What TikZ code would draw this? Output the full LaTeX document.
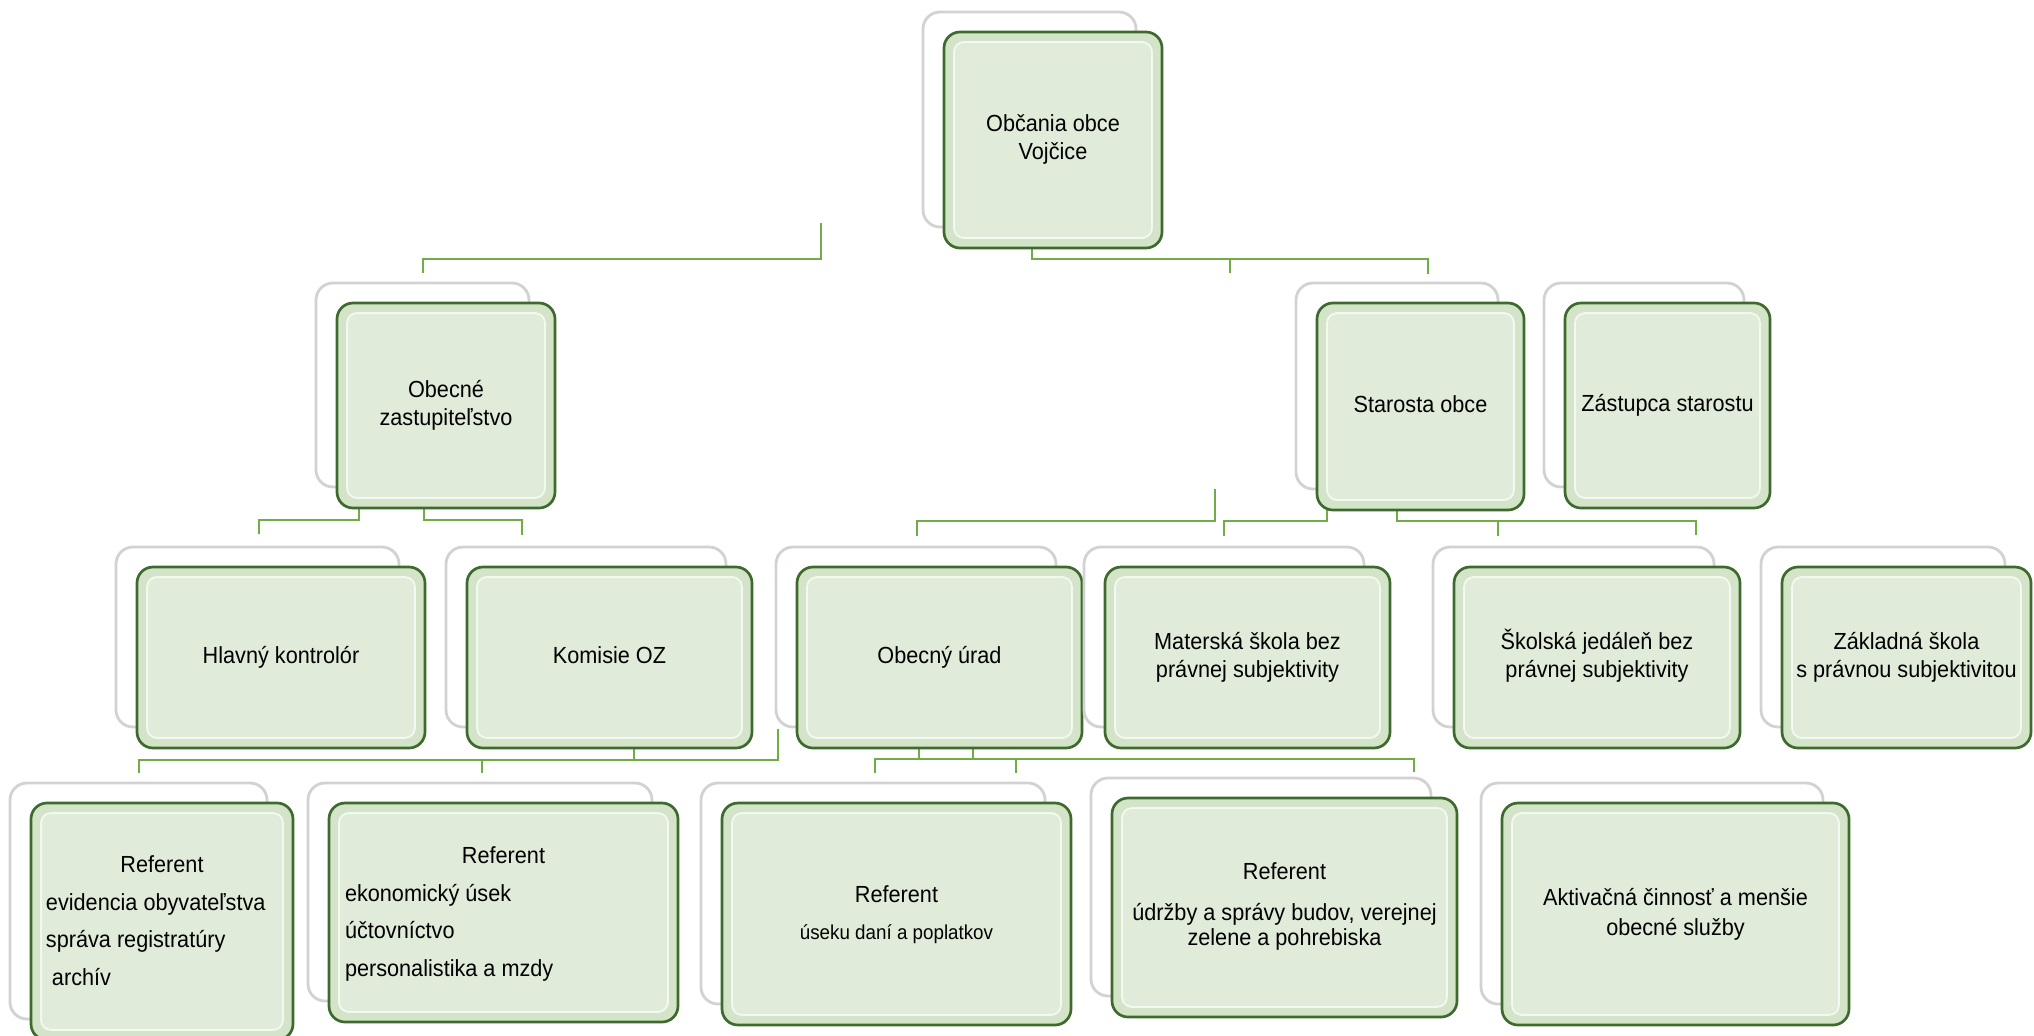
\documentclass[tikz,border=0pt]{standalone}
\usepackage{fontspec}
\setmainfont{Liberation Sans}[FakeStretch=0.93]
\usetikzlibrary{calc}
\pgfdeclarelayer{bg}
\pgfdeclarelayer{background}
\pgfsetlayers{bg,background,main}
\definecolor{boxfill}{HTML}{D3E4C9}
\definecolor{panel}{HTML}{E0ECD9}
\definecolor{boxline}{HTML}{3F6A2E}
\definecolor{conncol}{HTML}{70AD47}
\definecolor{backline}{HTML}{D2D2D2}
\tikzset{
  backbox/.style={fill=white, draw=backline, line width=1.4pt, rounded corners=8.5pt},
  frontshape/.style={fill=boxfill, draw=boxline, line width=1.35pt, rounded corners=8pt},
  bevel/.style={fill=panel, draw=white, draw opacity=0.7, line width=0.9pt, rounded corners=5pt},
  txt/.style={inner sep=0pt, outer sep=0pt, text=black, anchor=center, font=\fontsize{11.65}{14}\selectfont},
  conn/.style={draw=conncol, line width=1.15pt},
}
\newcommand\tabc[1]{\begin{tabular}{@{}c@{}}#1\end{tabular}}
% #1 name, #2 x1, #3 y1, #4 x2, #5 y2, #6 extra options, #7 text
\newcommand\orgbox[7]{%
  \path[backbox] (#2-21,#3-20) rectangle (#4-26,#5-21);
  \path[frontshape] (#2,#3) rectangle (#4,#5);
  \path[bevel] (#2+10,#3+10) rectangle (#4-10,#5-10);
  \node[txt, minimum width={(#4-#2)*0.5pt}, minimum height={(#5-#3)*0.5pt}, #6] (#1) at ({(#2+#4)/2},{(#3+#5)/2}) {#7};
}
\begin{document}
\begin{tikzpicture}[x=0.5pt,y=-0.5pt]
\begin{pgfonlayer}{bg}
\fill[white] (0,0) rectangle (2034,1035);
\end{pgfonlayer}
\useasboundingbox (0,0) rectangle (2034,1035);

% level 0
\orgbox{oc}{944}{32}{1162}{248}{}{\tabc{Občania obce\\Vojčice}}
% level 1
\orgbox{oz}{337}{303}{555}{508}{}{\tabc{Obecné\\zastupiteľstvo}}
\orgbox{st}{1317}{303}{1524}{510}{}{\tabc{Starosta obce}}
\orgbox{zs}{1565}{303}{1770}{508}{}{\tabc{Zástupca starostu}}
% level 2
\orgbox{hk}{137}{567}{425}{748}{}{\tabc{Hlavný kontrolór}}
\orgbox{ko}{467}{567}{752}{748}{}{\tabc{Komisie OZ}}
\orgbox{ou}{797}{567}{1082}{748}{}{\tabc{Obecný úrad}}
\orgbox{ms}{1105}{567}{1390}{748}{}{\tabc{Materská škola bez\\právnej subjektivity}}
\orgbox{sj}{1454}{567}{1740}{748}{}{\tabc{Školská jedáleň bez\\právnej subjektivity}}
\orgbox{zk}{1782}{567}{2031}{748}{}{\tabc{Základná škola\\s právnou subjektivitou}}
% level 3
\orgbox{r1}{31}{803}{293}{1040}{font=\fontsize{11.65}{18.75}\selectfont}{\begin{tabular}{@{}l@{}}\makebox[116pt]{Referent}\\evidencia obyvateľstva\\správa registratúry\\\hspace*{3pt}archív\end{tabular}}
\orgbox{r2}{329}{803}{678}{1022}{font=\fontsize{11.65}{18.75}\selectfont}{\begin{tabular}{@{}l@{}}\makebox[158.5pt]{Referent}\\ekonomický úsek\\účtovníctvo\\personalistika a mzdy\end{tabular}}
\orgbox{r3}{722}{803}{1071}{1025}{font=\fontsize{11.65}{18.5}\selectfont}{\tabc{Referent\\{\fontsize{10.1}{12}\selectfont úseku daní a poplatkov}}}
\orgbox{r4}{1112}{798}{1457}{1017}{font=\fontsize{11.65}{12.5}\selectfont}{\raisebox{-0.8pt}{\tabc{Referent\\[8pt]údržby a správy budov, verejnej\\zelene a pohrebiska}}}
\orgbox{r5}{1502}{803}{1849}{1025}{font=\fontsize{11.65}{15}\selectfont}{\tabc{Aktivačná činnosť a menšie\\obecné služby}}

\begin{pgfonlayer}{background}
\draw[conn] ($(oc.south)+(-21,0)$) -- ++(0,11) -| ($(st.north)+(7.5,-29)$);
\draw[conn] ($(oc.south)+(177,11)$) -- ++(0,14);
\coordinate (s1) at (821,223);
\draw[conn] (s1) -- ++(0,36) -| ($(oz.north)+(-23,-30)$);
\draw[conn] ($(oz.south)+(-87,0)$) -- ++(0,12) -| ($(hk.north)+(-22,-33)$);
\draw[conn] ($(oz.south)+(-22,-16)$) -- ++(0,28) -| ($(ko.north)+(-87.5,-32)$);
\coordinate (s2) at (1215,489);
\draw[conn] (s2) -- ++(0,32) -| ($(ou.north)+(-22.5,-31)$);
\draw[conn] ($(st.south)+(-93.5,-1)$) -- ++(0,12) -| ($(ms.north)+(-23.5,-31)$);
\draw[conn] ($(st.south)+(-23.5,-20)$) -- ++(0,31) -| ($(sj.north)+(99,-32)$);
\draw[conn] ($(sj.north)+(-99,-46)$) -- ++(0,15);
\coordinate (s3) at (778,729);
\draw[conn] (s3) -- ++(0,31) -| ($(r1.north)+(-23,-30)$);
\draw[conn] ($(r2.north)+(-21.5,-43)$) -- ++(0,13);
\draw[conn] ($(ko.south)+(24.5,-20)$) -- ++(0,32);
\draw[conn] ($(ou.south)+(-20.5,-18)$) -- ++(0,29);
\draw[conn] ($(ou.south)+(33.5,-18)$) -- ++(0,29);
\draw[conn] ($(r3.north)+(-21.5,-30)$) |- ($(r4.north)+(129.5,-39)$) -- ++(0,13);
\draw[conn] ($(r3.north)+(119.5,-44)$) -- ++(0,14);
\end{pgfonlayer}
\end{tikzpicture}
\end{document}
